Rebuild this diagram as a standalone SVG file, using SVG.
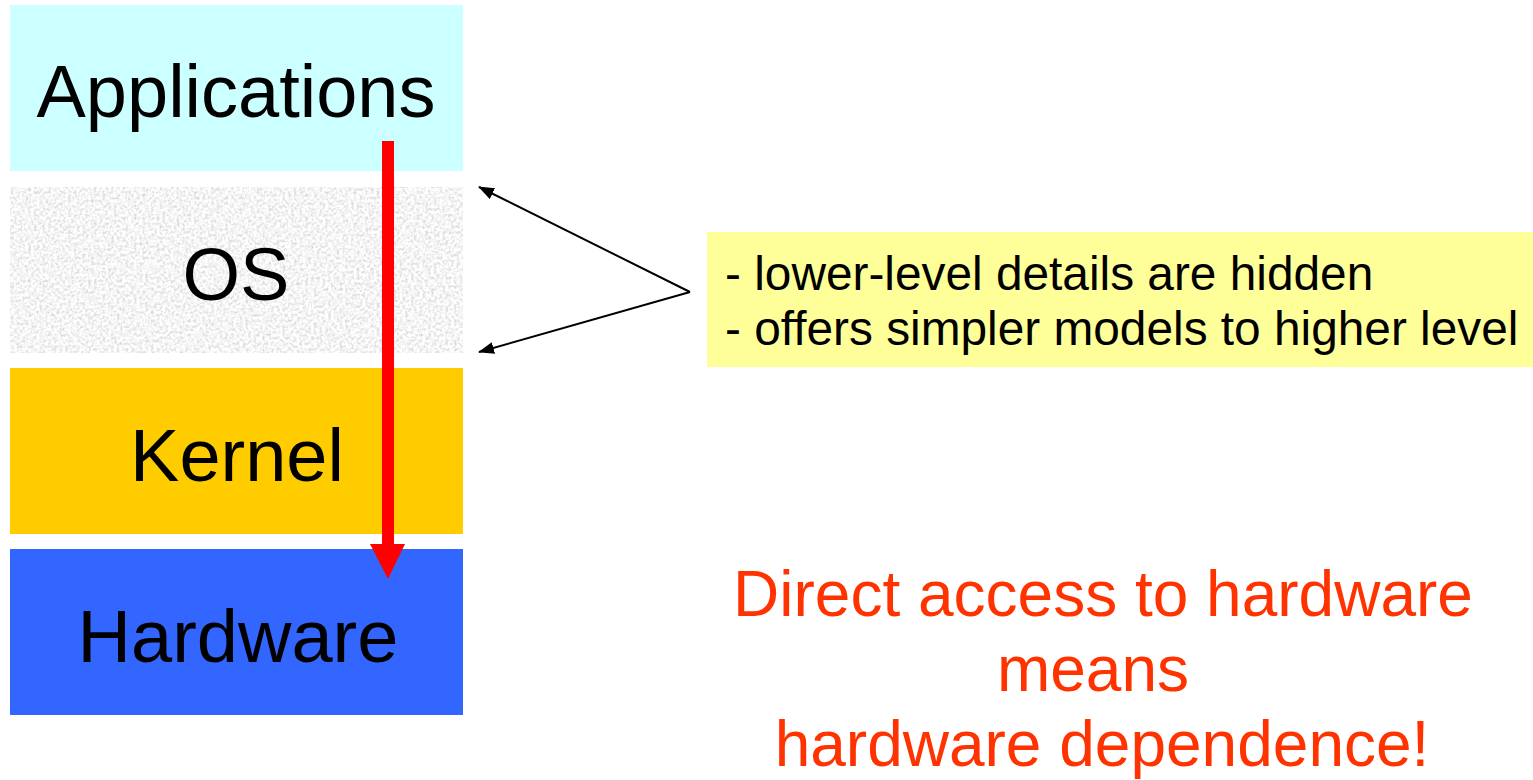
<svg xmlns="http://www.w3.org/2000/svg" width="1533" height="780" viewBox="0 0 1533 780">
<style>
.big{font-family:"Liberation Sans",Arial,sans-serif;font-size:74px;fill:#000;text-anchor:middle}
.note{font-family:"Liberation Sans",Arial,sans-serif;font-size:47.8px;fill:#000}
.red{font-family:"Liberation Sans",Arial,sans-serif;font-size:64px;fill:#ff3300;text-anchor:middle}
.conn{stroke:#000;stroke-width:2;fill:none}
</style>
<defs>
<filter id="noise" x="0" y="0" width="1" height="1" filterUnits="objectBoundingBox">
<feTurbulence type="fractalNoise" baseFrequency="0.35" numOctaves="3" seed="4"/>
<feColorMatrix type="matrix" values="0.7 0 0 0 0.56  0.7 0 0 0 0.56  0.7 0 0 0 0.56  0 0 0 0 1"/>
</filter>
<marker id="ah" viewBox="0 0 16 12" refX="15" refY="6" markerWidth="16" markerHeight="12" markerUnits="userSpaceOnUse" orient="auto">
<path d="M0,0 L16,6 L0,12 Z" fill="#000"/>
</marker>
</defs>
<rect width="1533" height="780" fill="#fff"/>
<g id="applications">
<rect x="10" y="5" width="453" height="166" fill="#ccffff"/>
<text class="big" x="236" y="117">Applications</text>
</g>
<g id="os">
<rect x="10" y="187" width="453" height="166" fill="#e9e9e9" filter="url(#noise)"/>
<text class="big" x="236" y="300">OS</text>
</g>
<g id="kernel">
<rect x="10" y="368" width="453" height="166" fill="#ffcc00"/>
<text class="big" x="237" y="481">Kernel</text>
</g>
<g id="hardware">
<rect x="10" y="549" width="453" height="166" fill="#3366ff"/>
<text class="big" x="238" y="662">Hardware</text>
</g>
<g id="note">
<rect x="707" y="232" width="826" height="135" fill="#ffff99"/>
<text class="note" x="725" y="290">- lower-level details are hidden</text>
<text class="note" x="725" y="345">- offers simpler models to higher level</text>
</g>
<g id="conclusion">
<text class="red" x="1103" y="616">Direct access to hardware</text>
<text class="red" x="1093" y="691">means</text>
<text class="red" x="1102" y="766">hardware dependence!</text>
</g>
<g id="connectors">
<line x1="388" y1="141" x2="388" y2="546" stroke="#ff0000" stroke-width="12"/>
<polygon points="370,544 405,544 388,579" fill="#ff0000"/>
<line class="conn" x1="690" y1="292" x2="479" y2="187" marker-end="url(#ah)"/>
<line class="conn" x1="690" y1="292" x2="479" y2="352" marker-end="url(#ah)"/>
</g>
</svg>
